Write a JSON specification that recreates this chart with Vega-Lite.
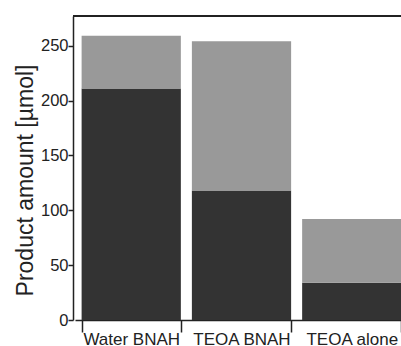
{
  "$schema": "https://vega.github.io/schema/vega-lite/v6.json",
  "autosize": "none",
  "width": 328,
  "height": 304,
  "padding": {"left": 73, "top": 16, "right": 0, "bottom": 26},
  "background": "white",
  "config": {
    "view": {"stroke": null},
    "font": "Liberation Sans",
    "axis": {"grid": false, "domainColor": "#222", "tickColor": "#222", "labelColor": "#222", "titleColor": "#222", "labelFont": "Liberation Sans", "titleFont": "Liberation Sans"}
  },
  "data": {
    "values": [
      {"condition": "Water BNAH", "part": "dark", "amount": 211},
      {"condition": "Water BNAH", "part": "light", "amount": 48},
      {"condition": "TEOA BNAH", "part": "dark", "amount": 118},
      {"condition": "TEOA BNAH", "part": "light", "amount": 136},
      {"condition": "TEOA alone", "part": "dark", "amount": 34},
      {"condition": "TEOA alone", "part": "light", "amount": 58}
    ]
  },
  "layer": [
    {
      "mark": {"type": "bar"},
      "encoding": {
        "x": {
          "field": "condition", "type": "nominal",
          "sort": ["Water BNAH", "TEOA BNAH", "TEOA alone"],
          "scale": {"range": [2, 335], "paddingInner": 0.1, "paddingOuter": 0.06},
          "axis": {"title": null, "labelAngle": 0, "labelFontSize": 17, "tickSize": 12, "tickBand": "extent", "labelPadding": -1, "domainWidth": 1.5, "tickWidth": 1.5}
        },
        "y": {
          "field": "amount", "type": "quantitative", "stack": "zero",
          "scale": {"domain": [0, 277], "nice": false},
          "axis": {"title": "Product amount [µmol]", "titleFontSize": 23, "titleFontWeight": "normal", "titleX": -41, "titleY": 164, "titleBaseline": "alphabetic", "titleAlign": "center", "titleAngle": -90, "values": [0, 50, 100, 150, 200, 250], "labelFontSize": 16.5, "tickSize": 5, "labelPadding": 0, "domainWidth": 1.5, "tickWidth": 1.5}
        },
        "color": {"field": "part", "type": "nominal", "scale": {"domain": ["dark", "light"], "range": ["#333333", "#999999"]}, "legend": null},
        "order": {"field": "part", "sort": "ascending"}
      }
    },
    {
      "mark": {"type": "rule", "color": "#222", "strokeWidth": 1.5},
      "encoding": {"y": {"datum": 277}}
    }
  ]
}
